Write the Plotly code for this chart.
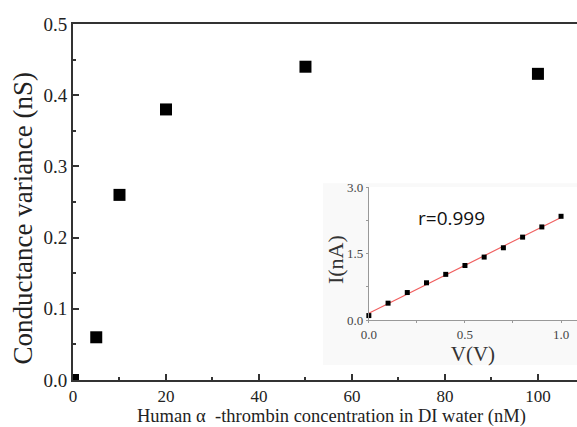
import plotly.graph_objects as go
import numpy as np

conc = [0, 5, 10, 20, 50, 100]
variance = [0.0, 0.06, 0.26, 0.38, 0.44, 0.43]

volt = [0.0, 0.1, 0.2, 0.3, 0.4, 0.5, 0.6, 0.7, 0.8, 0.9, 1.0]
curr = [0.10, 0.38, 0.62, 0.84, 1.03, 1.23, 1.42, 1.63, 1.87, 2.10, 2.34]

slope, icpt = np.polyfit(volt, curr, 1)
fit_x = [0.0, 1.0]
fit_y = [icpt + slope * v for v in fit_x]

serif = "'Liberation Serif', 'Times New Roman', 'DejaVu Serif', serif"

fig = go.Figure()
fig.add_trace(go.Scatter(x=conc, y=variance, mode="markers",
                         marker=dict(symbol="square", size=12, color="black"),
                         cliponaxis=True, showlegend=False))
fig.add_trace(go.Scatter(x=fit_x, y=fit_y, mode="lines", xaxis="x2", yaxis="y2",
                         line=dict(color="#f06060", width=1.2), showlegend=False))
fig.add_trace(go.Scatter(x=volt, y=curr, mode="markers", xaxis="x2", yaxis="y2",
                         marker=dict(symbol="square", size=5, color="black"),
                         cliponaxis=False, showlegend=False))

fig.update_layout(
    width=577, height=427,
    margin=dict(l=73, r=0, t=24, b=47, autoexpand=False),
    paper_bgcolor="white", plot_bgcolor="white",
    font=dict(family=serif, color="#222"),
    xaxis=dict(range=[0, 108.4], tickvals=[0, 20, 40, 60, 80, 100], automargin=False,
               ticks="inside", ticklen=6, tickwidth=1.5, tickcolor="#333",
               minor=dict(dtick=10, ticks="inside", ticklen=3, tickwidth=1.5, tickcolor="#333"),
               showline=True, linecolor="#333", linewidth=2, mirror=True,
               showgrid=False, zeroline=False,
               tickfont=dict(size=17, family=serif)),
    yaxis=dict(range=[0, 0.5], tickvals=[0, 0.1, 0.2, 0.3, 0.4, 0.5], tickformat=".1f",
               automargin=False,
               ticks="inside", ticklen=6, tickwidth=1.5, tickcolor="#333",
               minor=dict(dtick=0.05, ticks="inside", ticklen=3, tickwidth=1.5, tickcolor="#333"),
               showline=True, linecolor="#333", linewidth=2,
               showgrid=False, zeroline=False,
               tickfont=dict(size=19, family=serif)),
    xaxis2=dict(domain=[0.587, 1.0], anchor="y2", range=[0, 1.083], automargin=False,
                tickvals=[0, 0.5, 1.0], tickformat=".1f",
                ticks="outside", ticklen=2, tickcolor="#999",
                minor=dict(dtick=0.25, ticks="outside", ticklen=2, tickcolor="#999"),
                showline=True, linecolor="#999", linewidth=1,
                showgrid=False, zeroline=False,
                tickfont=dict(size=13, family=serif, color="#444"),
                title=dict(text="V(V)", font=dict(size=21, family=serif, color="#333"), standoff=2)),
    yaxis2=dict(domain=[0.1685, 0.542], anchor="x2", range=[0, 3.0], automargin=False,
                tickvals=[0, 1.5, 3.0], tickformat=".1f",
                ticks="outside", ticklen=2, tickcolor="#999",
                minor=dict(dtick=0.75, ticks="outside", ticklen=2, tickcolor="#999"),
                showline=True, linecolor="#999", linewidth=1,
                showgrid=False, zeroline=False,
                tickfont=dict(size=13, family=serif, color="#444")),
    shapes=[dict(type="rect", xref="paper", yref="paper", x0=0.496, x1=1.0, y0=0.042, y1=0.553,
                 fillcolor="#f9f9f9", line=dict(width=0), layer="below")],
    annotations=[
        dict(text="r=0.999", xref="x2", yref="y2", x=0.245, y=2.30, xanchor="left",
             showarrow=False, font=dict(size=19, family="'Open Sans', sans-serif", color="#111")),
        dict(text="I(nA)", xref="paper", yref="paper", textangle=-90,
             x=0.520, y=0.337, xanchor="center", yanchor="middle", showarrow=False,
             font=dict(size=22, family=serif, color="#333")),
        dict(text="Human α  -thrombin concentration in DI water (nM)", xref="paper", yref="paper",
             x=0.512, y=-0.103, xanchor="center", yanchor="middle", showarrow=False,
             font=dict(size=18.5, family=serif, color="#222")),
        dict(text="Conductance variance (nS)", xref="paper", yref="paper", textangle=-90,
             x=-0.099, y=0.454, xanchor="center", yanchor="middle", showarrow=False,
             font=dict(size=27, family=serif, color="#222")),
    ],
)

fig.write_html("out.html")
